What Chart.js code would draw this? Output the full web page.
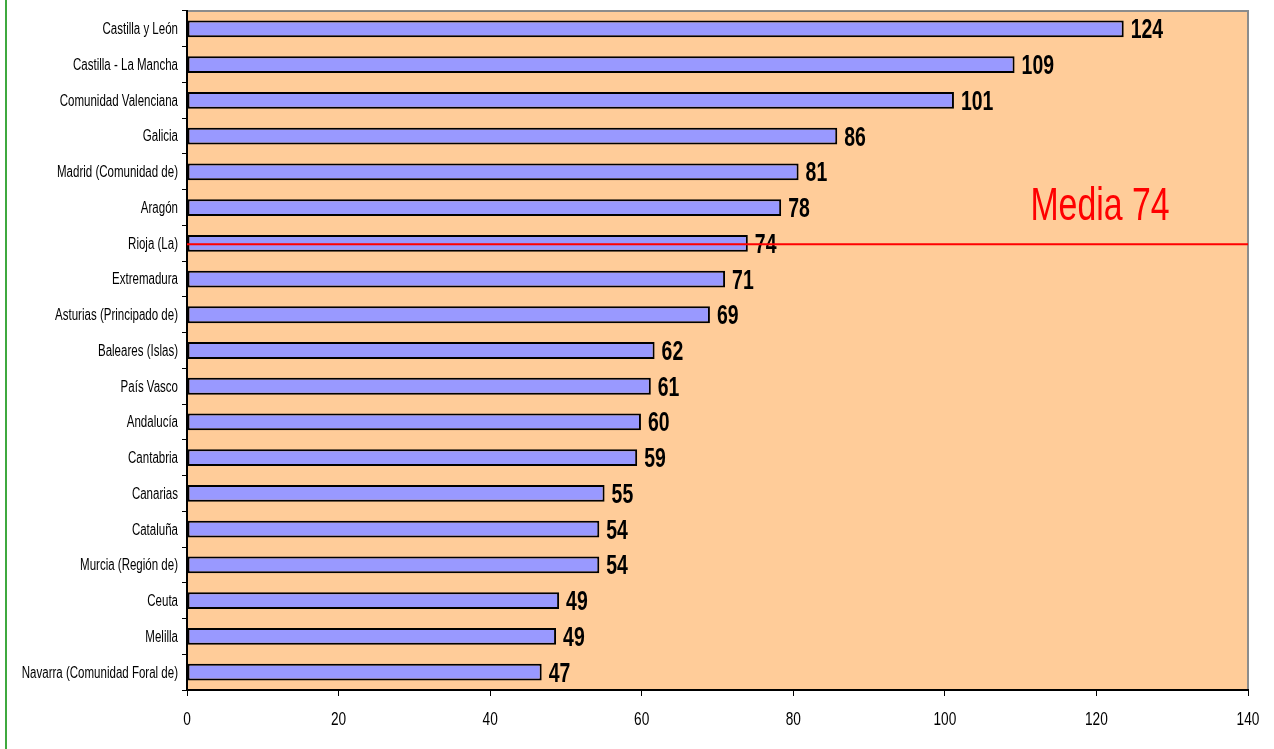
<!DOCTYPE html>
<html>
<head>
<meta charset="utf-8">
<script src="https://cdn.jsdelivr.net/npm/chart.js@4/dist/chart.umd.min.js"></script>
<style>
  html, body { margin: 0; padding: 0; background: #fff; }
  #wrap { position: relative; width: 1274px; height: 749px; }
  #edge { position: absolute; left: 5px; top: 0; width: 2px; height: 749px; background: #3fa93f; }
</style>
</head>
<body>
<div id="wrap">
  <div id="edge"></div>
  <canvas id="chart" width="1274" height="749"></canvas>
</div>
<script>
const FONT = '"Liberation Sans", Arial, sans-serif';
const SX = 0.72; // text in the original is squeezed horizontally

const regions = [
  'Castilla y León', 'Castilla - La Mancha', 'Comunidad Valenciana', 'Galicia',
  'Madrid (Comunidad de)', 'Aragón', 'Rioja (La)', 'Extremadura',
  'Asturias (Principado de)', 'Baleares (Islas)', 'País Vasco', 'Andalucía',
  'Cantabria', 'Canarias', 'Cataluña', 'Murcia (Región de)', 'Ceuta', 'Melilla',
  'Navarra (Comunidad Foral de)'
];
const values = [123.6, 109.2, 101.2, 85.8, 80.7, 78.4, 74.0, 71.0, 69.0, 61.7,
                61.2, 59.9, 59.4, 55.1, 54.4, 54.4, 49.1, 48.7, 46.8];
const xTicks = [0, 20, 40, 60, 80, 100, 120, 140];
const mediaValue = 74;
const mediaRegion = 'Rioja (La)';

// draw text squeezed horizontally, anchored at x
function squeezed(ctx, text, x, y, align) {
  ctx.save();
  ctx.translate(x, y);
  ctx.scale(SX, 1);
  ctx.textAlign = align;
  ctx.fillText(text, 0, 0);
  ctx.restore();
}

const plotBg = {
  id: 'plotBg',
  beforeDraw(chart) {
    const { ctx, chartArea: a } = chart;
    ctx.save();
    ctx.fillStyle = '#ffcc99';
    ctx.fillRect(a.left, a.top, a.right - a.left, a.bottom - a.top);
    ctx.strokeStyle = '#8c8c8c';
    ctx.lineWidth = 2;
    ctx.beginPath();
    ctx.moveTo(a.left, a.top);
    ctx.lineTo(a.right, a.top);
    ctx.lineTo(a.right, a.bottom);
    ctx.stroke();
    ctx.restore();
  }
};

const axisLabels = {
  id: 'axisLabels',
  afterDraw(chart) {
    const { ctx, chartArea: a, scales } = chart;
    ctx.save();
    ctx.fillStyle = '#000';
    ctx.textBaseline = 'middle';
    ctx.font = '16px ' + FONT;
    regions.forEach((r, i) => {
      squeezed(ctx, r, 178, scales.y.getPixelForValue(i) + 1, 'right');
    });
    ctx.textBaseline = 'alphabetic';
    ctx.font = '19px ' + FONT;
    xTicks.forEach(v => {
      squeezed(ctx, String(v), scales.x.getPixelForValue(v), a.bottom + 35, 'center');
    });
    ctx.restore();
  }
};

const valueLabels = {
  id: 'valueLabels',
  afterDatasetsDraw(chart) {
    const { ctx } = chart;
    const meta = chart.getDatasetMeta(0);
    ctx.save();
    ctx.font = 'bold 27px ' + FONT;
    ctx.fillStyle = '#000';
    ctx.textBaseline = 'alphabetic';
    meta.data.forEach((bar, i) => {
      squeezed(ctx, String(Math.round(values[i])), bar.x + 7, bar.y + 9.5, 'left');
    });
    ctx.restore();
  }
};

const mediaLine = {
  id: 'mediaLine',
  afterDraw(chart) {
    const { ctx, chartArea: a, scales } = chart;
    const y = scales.y.getPixelForValue(regions.indexOf(mediaRegion)) + 1;
    ctx.save();
    ctx.strokeStyle = '#ff0000';
    ctx.lineWidth = 2;
    ctx.beginPath();
    ctx.moveTo(a.left, y);
    ctx.lineTo(a.right, y);
    ctx.stroke();
    ctx.font = '47px ' + FONT;
    ctx.fillStyle = '#ff0000';
    ctx.textBaseline = 'alphabetic';
    squeezed(ctx, 'Media ' + mediaValue, 1100, y - 24, 'center');
    ctx.restore();
  }
};

new Chart(document.getElementById('chart'), {
  type: 'bar',
  data: {
    labels: regions,
    datasets: [{
      data: values,
      backgroundColor: '#9999ff',
      borderColor: '#000',
      borderWidth: 2,
      borderSkipped: false,
      categoryPercentage: 1,
      barPercentage: 0.47
    }]
  },
  options: {
    indexAxis: 'y',
    responsive: false,
    animation: false,
    layout: { padding: { top: 11, right: 26, left: 0, bottom: 0 } },
    plugins: { legend: { display: false }, tooltip: { enabled: false } },
    scales: {
      x: {
        min: 0,
        max: 140,
        afterBuildTicks(scale) { scale.ticks = xTicks.map(v => ({ value: v })); },
        afterFit(scale) { scale.height = 59; },
        border: { color: '#000', width: 2 },
        grid: { drawOnChartArea: false, color: '#000', tickLength: 6, lineWidth: 1 },
        ticks: { display: false }
      },
      y: {
        afterFit(scale) { scale.width = 187; },
        border: { color: '#000', width: 2 },
        grid: { drawOnChartArea: false, color: '#000', tickLength: 5, offset: true },
        ticks: { display: false }
      }
    }
  },
  plugins: [plotBg, valueLabels, mediaLine, axisLabels]
});
</script>
</body>
</html>
